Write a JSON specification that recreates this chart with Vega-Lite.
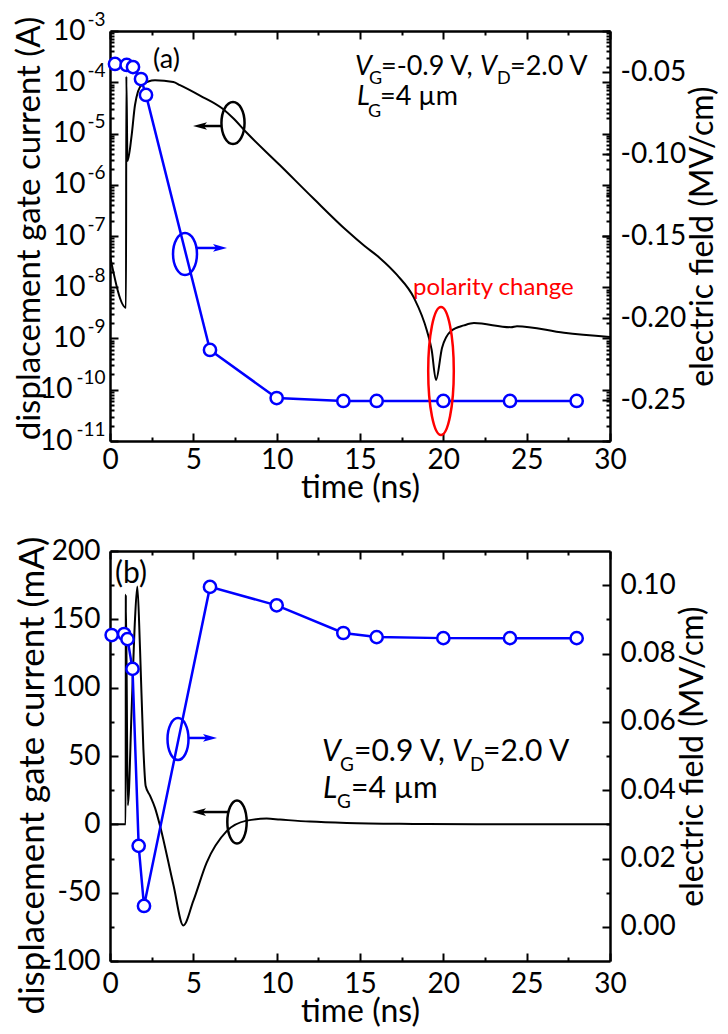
{
  "$schema": "https://vega.github.io/schema/vega-lite/v6.json",
  "bounds": "flush",
  "spacing": 110,
  "padding": {"left": 12, "top": 10, "right": 5, "bottom": 5},
  "config": {
    "view": {"stroke": null},
    "font": "Lato",
    "axis": {
      "domainColor": "black", "domainWidth": 2.5, "tickColor": "black", "tickWidth": 2,
      "labelFont": "Lato", "labelFontSize": 28, "labelColor": "black",
      "titleFont": "Lato", "titleFontSize": 32, "titleFontWeight": "normal", "titleColor": "black",
      "grid": false, "labelOverlap": false, "labelFlush": false, "labelBound": false
    }
  },
  "vconcat": [
    {
      "width": 500, "height": 410,
      "resolve": {"scale": {"x": "independent", "y": "independent"}},
      "layer": [
        {
          "data": {"values": [
            {"t": 0, "I": 4.1e-8}, {"t": 0.96, "I": 4e-9}, {"t": 0.98, "I": 1.3e-4}, {"t": 1.05, "I": 2.9e-6},
            {"t": 1.3, "I": 9.3e-6}, {"t": 1.5, "I": 3.6e-5}, {"t": 1.9, "I": 8.9e-5}, {"t": 2.7, "I": 1.1e-4},
            {"t": 3.8, "I": 1.01e-4}, {"t": 4.2, "I": 8.8e-5}, {"t": 5.4, "I": 5.5e-5}, {"t": 6.78, "I": 3.0e-5},
            {"t": 7.38, "I": 2e-5}, {"t": 8.22, "I": 1.02e-5}, {"t": 10.2, "I": 2.4e-6}, {"t": 12.18, "I": 5.5e-7},
            {"t": 14.22, "I": 1.26e-7}, {"t": 15.24, "I": 6.5e-8}, {"t": 16.2, "I": 3.7e-8}, {"t": 17.22, "I": 1.74e-8},
            {"t": 18.24, "I": 6.2e-9}, {"t": 19.02, "I": 1.4e-9}, {"t": 19.3, "I": 6e-10}, {"t": 19.56, "I": 1.55e-10},
            {"t": 19.92, "I": 6.5e-10}, {"t": 20.46, "I": 1.4e-9}, {"t": 21.24, "I": 1.8e-9}, {"t": 21.84, "I": 2e-9},
            {"t": 24.06, "I": 1.66e-9}, {"t": 24.42, "I": 1.74e-9}, {"t": 27.24, "I": 1.29e-9}, {"t": 30, "I": 1.07e-9}
          ]},
          "mark": {"type": "line", "color": "black", "strokeWidth": 2, "clip": true, "interpolate": "monotone"},
          "encoding": {
            "x": {"field": "t", "type": "quantitative", "scale": {"domain": [0, 30], "nice": false, "zero": false},
              "axis": {"orient": "bottom", "values": [0, 2.5, 5, 7.5, 10, 12.5, 15, 17.5, 20, 22.5, 25, 27.5, 30],
                "labelExpr": "datum.value % 5 == 0 ? datum.label : ''",
                "tickSize": {"condition": {"test": "datum.value % 5 == 0", "value": -8}, "value": -4},
                "labelPadding": 13, "title": "time (ns)", "titlePadding": -6}},
            "y": {"field": "I", "type": "quantitative", "scale": {"type": "log", "domain": [1e-11, 1e-3], "nice": false},
              "axis": {"orient": "left",
                "values": [1e-11,2e-11,3e-11,4e-11,5e-11,6e-11,7e-11,8e-11,9e-11,1e-10,2e-10,3e-10,4e-10,5e-10,6e-10,7e-10,8e-10,9e-10,1e-9,2e-9,3e-9,4e-9,5e-9,6e-9,7e-9,8e-9,9e-9,1e-8,2e-8,3e-8,4e-8,5e-8,6e-8,7e-8,8e-8,9e-8,1e-7,2e-7,3e-7,4e-7,5e-7,6e-7,7e-7,8e-7,9e-7,1e-6,2e-6,3e-6,4e-6,5e-6,6e-6,7e-6,8e-6,9e-6,1e-5,2e-5,3e-5,4e-5,5e-5,6e-5,7e-5,8e-5,9e-5,1e-4,2e-4,3e-4,4e-4,5e-4,6e-4,7e-4,8e-4,9e-4,1e-3],
                "labelExpr": "datum.value > 3e-10 && abs(log(datum.value)/LN10 - round(log(datum.value)/LN10)) < 0.01 ? '10' : ''",
                "tickSize": {"condition": {"test": "abs(log(datum.value)/LN10 - round(log(datum.value)/LN10)) < 0.01", "value": -8}, "value": -4},
                "labelPadding": 33, "title": "displacement gate current (A)", "titleFontSize": 33,
                "titleX": -71, "titleY": 197, "titleAngle": 270, "titleBaseline": "alphabetic", "titleAlign": "center"}}
          }
        },
        {
          "data": {"values": [
            {"t": 0.3, "E": -0.0451}, {"t": 1.0, "E": -0.0457}, {"t": 1.38, "E": -0.047}, {"t": 1.86, "E": -0.0543},
            {"t": 2.16, "E": -0.064}, {"t": 6, "E": -0.2195}, {"t": 10, "E": -0.2488}, {"t": 14, "E": -0.2506},
            {"t": 16, "E": -0.2506}, {"t": 20, "E": -0.2506}, {"t": 24, "E": -0.2506}, {"t": 28, "E": -0.2506}
          ]},
          "mark": {"type": "line", "color": "#0000ff", "strokeWidth": 2.5,
            "point": {"filled": true, "fill": "white", "stroke": "#0000ff", "strokeWidth": 2.5, "size": 150, "shape": "circle"}},
          "encoding": {
            "x": {"field": "t", "type": "quantitative", "scale": {"domain": [0, 30], "nice": false, "zero": false},
              "axis": {"orient": "top", "values": [0, 2.5, 5, 7.5, 10, 12.5, 15, 17.5, 20, 22.5, 25, 27.5, 30],
                "labels": false, "title": null,
                "tickSize": {"condition": {"test": "datum.value % 5 == 0", "value": -8}, "value": -4}}},
            "y": {"field": "E", "type": "quantitative", "scale": {"domain": [-0.275, -0.025], "nice": false, "zero": false},
              "axis": {"orient": "right", "values": [-0.275,-0.25,-0.225,-0.2,-0.175,-0.15,-0.125,-0.1,-0.075,-0.05,-0.025],
                "labelExpr": "abs(datum.value*20 - round(datum.value*20)) < 0.001 ? replace(format(datum.value,'.2f'),'\u2212','-') : ''",
                "tickSize": {"condition": {"test": "abs(datum.value*20 - round(datum.value*20)) < 0.001", "value": -8}, "value": -4},
                "labelPadding": 18, "title": "electric field (MV/cm)", "titleAngle": 270, "titleBaseline": "top", "titlePadding": 2}}
          }
        },
        {
          "layer": [
            {
              "data": {"values": [{"t": 7.38, "I": 1.6e-5}]},
              "mark": {"type": "point", "shape": "M 0 -1 A 0.55 1 0 1 1 0 1 A 0.55 1 0 1 1 0 -1 Z", "size": 1764, "filled": false, "stroke": "black", "strokeWidth": 2.5, "opacity": 1},
              "encoding": {
                "x": {"field": "t", "type": "quantitative", "scale": {"domain": [0, 30], "nice": false, "zero": false}, "axis": null},
                "y": {"field": "I", "type": "quantitative", "scale": {"type": "log", "domain": [1e-11, 1e-3], "nice": false},
                  "axis": {"orient": "left", "values": [1e-11,1e-10,1e-9,1e-8,1e-7,1e-6,1e-5,1e-4,1e-3],
                    "labelExpr": "'-' + round(-log(datum.value)/LN10)", "ticks": false, "domain": false,
                    "labelFontSize": 19, "labelPadding": 5, "labelOffset": -12, "title": null}}
              }
            },
            {
              "data": {"values": [{"t": 5.4, "t2": 6.66, "I": 1.4e-5}]},
              "mark": {"type": "rule", "color": "black", "strokeWidth": 2.5},
              "encoding": {"x": {"field": "t", "type": "quantitative"}, "x2": {"field": "t2"}, "y": {"field": "I", "type": "quantitative"}}
            },
            {
              "data": {"values": [{"t": 5.4, "I": 1.4e-5}]},
              "mark": {"type": "point", "shape": "M -1 0 L 1 -0.55 L 0.55 0 L 1 0.55 Z", "size": 196, "filled": true, "color": "black", "opacity": 1},
              "encoding": {"x": {"field": "t", "type": "quantitative"}, "y": {"field": "I", "type": "quantitative"}}
            }
          ]
        },
        {
          "data": {"values": [{"t": 19.86, "I": 2.32e-10}]},
          "mark": {"type": "point", "shape": "M 0 -1 A 0.2 1 0 1 1 0 1 A 0.2 1 0 1 1 0 -1 Z", "size": 16384, "filled": false, "stroke": "#ff0000", "strokeWidth": 2.5, "opacity": 1},
          "encoding": {
            "x": {"field": "t", "type": "quantitative", "scale": {"domain": [0, 30], "nice": false, "zero": false}, "axis": null},
            "y": {"field": "I", "type": "quantitative", "scale": {"type": "log", "domain": [1e-11, 1e-3], "nice": false},
              "axis": {"orient": "right",
                "values": [1e-11,2e-11,3e-11,4e-11,5e-11,6e-11,7e-11,8e-11,9e-11,1e-10,2e-10,3e-10,4e-10,5e-10,6e-10,7e-10,8e-10,9e-10,1e-9,2e-9,3e-9,4e-9,5e-9,6e-9,7e-9,8e-9,9e-9,1e-8,2e-8,3e-8,4e-8,5e-8,6e-8,7e-8,8e-8,9e-8,1e-7,2e-7,3e-7,4e-7,5e-7,6e-7,7e-7,8e-7,9e-7,1e-6,2e-6,3e-6,4e-6,5e-6,6e-6,7e-6,8e-6,9e-6,1e-5,2e-5,3e-5,4e-5,5e-5,6e-5,7e-5,8e-5,9e-5,1e-4,2e-4,3e-4,4e-4,5e-4,6e-4,7e-4,8e-4,9e-4,1e-3],
                "labels": false, "domain": false, "title": null,
                "tickSize": {"condition": {"test": "abs(log(datum.value)/LN10 - round(log(datum.value)/LN10)) < 0.01", "value": -8}, "value": -4}}}
          }
        },
        {
          "data": {"values": [{"t": 23.0, "I": 7.06e-9, "s": "polarity change"}]},
          "mark": {"type": "text", "align": "center", "baseline": "alphabetic", "font": "Lato", "fontSize": 24, "color": "#ff0000"},
          "encoding": {
            "x": {"field": "t", "type": "quantitative", "scale": {"domain": [0, 30], "nice": false, "zero": false}, "axis": null},
            "y": {"field": "I", "type": "quantitative", "scale": {"type": "log", "domain": [1e-11, 1e-3], "nice": false},
              "axis": {"orient": "left", "values": [1e-11, 1e-10], "labelExpr": "'10'", "ticks": false, "domain": false,
                "labelPadding": 38, "title": null}},
            "text": {"field": "s"}
          }
        },
        {
          "layer": [
            {
              "data": {"values": [{"t": 4.5, "E": -0.161}]},
              "mark": {"type": "point", "shape": "M 0 -1 A 0.57 1 0 1 1 0 1 A 0.57 1 0 1 1 0 -1 Z", "size": 1764, "filled": false, "stroke": "#0000ff", "strokeWidth": 2.5, "opacity": 1},
              "encoding": {
                "x": {"field": "t", "type": "quantitative", "scale": {"domain": [0, 30], "nice": false, "zero": false}, "axis": null},
                "y": {"field": "E", "type": "quantitative", "scale": {"domain": [-0.275, -0.025], "nice": false, "zero": false}, "axis": null}
              }
            },
            {
              "data": {"values": [{"t": 5.22, "t2": 6.6, "E": -0.1573}]},
              "mark": {"type": "rule", "color": "#0000ff", "strokeWidth": 2.5},
              "encoding": {"x": {"field": "t", "type": "quantitative"}, "x2": {"field": "t2"}, "y": {"field": "E", "type": "quantitative"}}
            },
            {
              "data": {"values": [{"t": 6.6, "E": -0.1573}]},
              "mark": {"type": "point", "shape": "M 1 0 L -1 -0.55 L -0.55 0 L -1 0.55 Z", "size": 196, "filled": true, "color": "#0000ff", "opacity": 1},
              "encoding": {"x": {"field": "t", "type": "quantitative"}, "y": {"field": "E", "type": "quantitative"}}
            },
            {
              "data": {"values": [{"t": 14.7, "E": -0.0518, "s": "V"}, {"t": 22.2, "E": -0.0518, "s": "V"}, {"t": 14.82, "E": -0.0701, "s": "L"}]},
              "mark": {"type": "text", "align": "left", "baseline": "alphabetic", "font": "Lato", "fontSize": 27, "fontStyle": "italic", "color": "black"},
              "encoding": {"x": {"field": "t", "type": "quantitative"}, "y": {"field": "E", "type": "quantitative"}, "text": {"field": "s"}}
            },
            {
              "data": {"values": [{"t": 16.26, "E": -0.0518, "s": "=-0.9 V,"}, {"t": 24.0, "E": -0.0518, "s": "=2.0 V"}, {"t": 16.2, "E": -0.0701, "s": "=4 µm"}, {"t": 2.58, "E": -0.0476, "s": "(a)"}]},
              "mark": {"type": "text", "align": "left", "baseline": "alphabetic", "font": "Lato", "fontSize": 27, "color": "black"},
              "encoding": {"x": {"field": "t", "type": "quantitative"}, "y": {"field": "E", "type": "quantitative"}, "text": {"field": "s"}}
            },
            {
              "data": {"values": [{"t": 15.54, "E": -0.0573, "s": "G"}, {"t": 23.22, "E": -0.0573, "s": "D"}, {"t": 15.48, "E": -0.0774, "s": "G"}]},
              "mark": {"type": "text", "align": "left", "baseline": "alphabetic", "font": "Lato", "fontSize": 18, "color": "black"},
              "encoding": {"x": {"field": "t", "type": "quantitative"}, "y": {"field": "E", "type": "quantitative"}, "text": {"field": "s"}}
            }
          ]
        }
      ]
    },
    {
      "width": 500, "height": 410,
      "resolve": {"scale": {"x": "independent", "y": "independent"}},
      "layer": [
        {
          "data": {"values": [
            {"t": 0, "I": 0}, {"t": 0.94, "I": 0}, {"t": 0.95, "I": 168}, {"t": 1.07, "I": 14}, {"t": 1.3, "I": 85},
            {"t": 1.5, "I": 150}, {"t": 1.64, "I": 174}, {"t": 1.8, "I": 129}, {"t": 2.0, "I": 56}, {"t": 2.14, "I": 28},
            {"t": 2.4, "I": 21}, {"t": 2.7, "I": 12}, {"t": 3.0, "I": -1}, {"t": 3.8, "I": -44}, {"t": 4.4, "I": -74},
            {"t": 5.0, "I": -56}, {"t": 5.8, "I": -28}, {"t": 7.0, "I": -5}, {"t": 8.2, "I": 2.7}, {"t": 9.4, "I": 4.2},
            {"t": 10.2, "I": 3.5}, {"t": 12, "I": 2}, {"t": 14.2, "I": 1}, {"t": 18.2, "I": 0.3}, {"t": 22, "I": 0}, {"t": 30, "I": 0}
          ]},
          "mark": {"type": "line", "color": "black", "strokeWidth": 2, "clip": true, "interpolate": "monotone"},
          "encoding": {
            "x": {"field": "t", "type": "quantitative", "scale": {"domain": [0, 30], "nice": false, "zero": false},
              "axis": {"orient": "bottom", "values": [0, 2.5, 5, 7.5, 10, 12.5, 15, 17.5, 20, 22.5, 25, 27.5, 30],
                "labelExpr": "datum.value % 5 == 0 ? datum.label : ''",
                "tickSize": {"condition": {"test": "datum.value % 5 == 0", "value": -8}, "value": -4},
                "labelPadding": 17, "title": "time (ns)", "titlePadding": -6}},
            "y": {"field": "I", "type": "quantitative", "scale": {"domain": [-100, 200], "nice": false, "zero": false},
              "axis": {"orient": "left", "values": [-100,-75,-50,-25,0,25,50,75,100,125,150,175,200],
                "labelExpr": "datum.value % 50 == 0 ? replace(format(datum.value,'d'),'\u2212','-') : ''",
                "tickSize": {"condition": {"test": "datum.value % 50 == 0", "value": -8}, "value": -4},
                "labelPadding": 18, "title": "displacement gate current (mA)", "titleFontSize": 35,
                "titleX": -67, "titleY": 224, "titleAngle": 270, "titleBaseline": "alphabetic", "titleAlign": "center"}}
          }
        },
        {
          "data": {"values": [
            {"t": 0.1, "E": 0.0854}, {"t": 0.85, "E": 0.0857}, {"t": 1.05, "E": 0.0842}, {"t": 1.35, "E": 0.0755},
            {"t": 1.72, "E": 0.0237}, {"t": 2.04, "E": 0.0061}, {"t": 6, "E": 0.0995}, {"t": 10, "E": 0.0941},
            {"t": 14, "E": 0.086}, {"t": 16, "E": 0.0848}, {"t": 20, "E": 0.0845}, {"t": 24, "E": 0.0845}, {"t": 28, "E": 0.0845}
          ]},
          "mark": {"type": "line", "color": "#0000ff", "strokeWidth": 2.5,
            "point": {"filled": true, "fill": "white", "stroke": "#0000ff", "strokeWidth": 2.5, "size": 150, "shape": "circle"}},
          "encoding": {
            "x": {"field": "t", "type": "quantitative", "scale": {"domain": [0, 30], "nice": false, "zero": false},
              "axis": {"orient": "top", "values": [0, 2.5, 5, 7.5, 10, 12.5, 15, 17.5, 20, 22.5, 25, 27.5, 30],
                "labels": false, "title": null,
                "tickSize": {"condition": {"test": "datum.value % 5 == 0", "value": -8}, "value": -4}}},
            "y": {"field": "E", "type": "quantitative", "scale": {"domain": [-0.01, 0.11], "nice": false, "zero": false},
              "axis": {"orient": "right", "values": [0, 0.01, 0.02, 0.03, 0.04, 0.05, 0.06, 0.07, 0.08, 0.09, 0.1],
                "labelExpr": "round(datum.value*100) % 2 == 0 ? format(datum.value,'.2f') : ''",
                "tickSize": {"condition": {"test": "round(datum.value*100) % 2 == 0", "value": -8}, "value": -4},
                "labelPadding": 18, "title": "electric field (MV/cm)", "titleAngle": 270, "titleBaseline": "top", "titlePadding": 2}}
          }
        },
        {
          "layer": [
            {
              "data": {"values": [{"t": 7.62, "I": 1.7}]},
              "mark": {"type": "point", "shape": "M 0 -1 A 0.45 1 0 1 1 0 1 A 0.45 1 0 1 1 0 -1 Z", "size": 1849, "filled": false, "stroke": "black", "strokeWidth": 2.5, "opacity": 1},
              "encoding": {
                "x": {"field": "t", "type": "quantitative", "scale": {"domain": [0, 30], "nice": false, "zero": false}, "axis": null},
                "y": {"field": "I", "type": "quantitative", "scale": {"domain": [-100, 200], "nice": false, "zero": false}, "axis": null}
              }
            },
            {
              "data": {"values": [{"t": 5.34, "t2": 7.08, "I": 9.0}]},
              "mark": {"type": "rule", "color": "black", "strokeWidth": 2.5},
              "encoding": {"x": {"field": "t", "type": "quantitative"}, "x2": {"field": "t2"}, "y": {"field": "I", "type": "quantitative"}}
            },
            {
              "data": {"values": [{"t": 5.34, "I": 9.0}]},
              "mark": {"type": "point", "shape": "M -1 0 L 1 -0.55 L 0.55 0 L 1 0.55 Z", "size": 196, "filled": true, "color": "black", "opacity": 1},
              "encoding": {"x": {"field": "t", "type": "quantitative"}, "y": {"field": "I", "type": "quantitative"}}
            },
            {
              "data": {"values": [{"t": 4.08, "I": 62.4}]},
              "mark": {"type": "point", "shape": "M 0 -1 A 0.5 1 0 1 1 0 1 A 0.5 1 0 1 1 0 -1 Z", "size": 1764, "filled": false, "stroke": "#0000ff", "strokeWidth": 2.5, "opacity": 1},
              "encoding": {"x": {"field": "t", "type": "quantitative"}, "y": {"field": "I", "type": "quantitative"}}
            },
            {
              "data": {"values": [{"t": 4.68, "t2": 6.0, "I": 63.2}]},
              "mark": {"type": "rule", "color": "#0000ff", "strokeWidth": 2.5},
              "encoding": {"x": {"field": "t", "type": "quantitative"}, "x2": {"field": "t2"}, "y": {"field": "I", "type": "quantitative"}}
            },
            {
              "data": {"values": [{"t": 6.0, "I": 63.2}]},
              "mark": {"type": "point", "shape": "M 1 0 L -1 -0.55 L -0.55 0 L -1 0.55 Z", "size": 196, "filled": true, "color": "#0000ff", "opacity": 1},
              "encoding": {"x": {"field": "t", "type": "quantitative"}, "y": {"field": "I", "type": "quantitative"}}
            },
            {
              "data": {"values": [{"t": 12.72, "I": 46.3, "s": "V"}, {"t": 20.52, "I": 46.3, "s": "V"}, {"t": 12.78, "I": 19.3, "s": "L"}]},
              "mark": {"type": "text", "align": "left", "baseline": "alphabetic", "font": "Lato", "fontSize": 30, "fontStyle": "italic", "color": "black"},
              "encoding": {"x": {"field": "t", "type": "quantitative"}, "y": {"field": "I", "type": "quantitative"}, "text": {"field": "s"}}
            },
            {
              "data": {"values": [{"t": 14.64, "I": 46.3, "s": "=0.9 V,"}, {"t": 22.38, "I": 46.3, "s": "=2.0 V"}, {"t": 14.46, "I": 19.3, "s": "=4 µm"}, {"t": 0.3, "I": 176.6, "s": "(b)"}]},
              "mark": {"type": "text", "align": "left", "baseline": "alphabetic", "font": "Lato", "fontSize": 30, "color": "black"},
              "encoding": {"x": {"field": "t", "type": "quantitative"}, "y": {"field": "I", "type": "quantitative"}, "text": {"field": "s"}}
            },
            {
              "data": {"values": [{"t": 13.8, "I": 39.0, "s": "G"}, {"t": 21.6, "I": 39.0, "s": "D"}, {"t": 13.62, "I": 12.0, "s": "G"}]},
              "mark": {"type": "text", "align": "left", "baseline": "alphabetic", "font": "Lato", "fontSize": 19, "color": "black"},
              "encoding": {"x": {"field": "t", "type": "quantitative"}, "y": {"field": "I", "type": "quantitative"}, "text": {"field": "s"}}
            }
          ]
        }
      ]
    }
  ]
}
